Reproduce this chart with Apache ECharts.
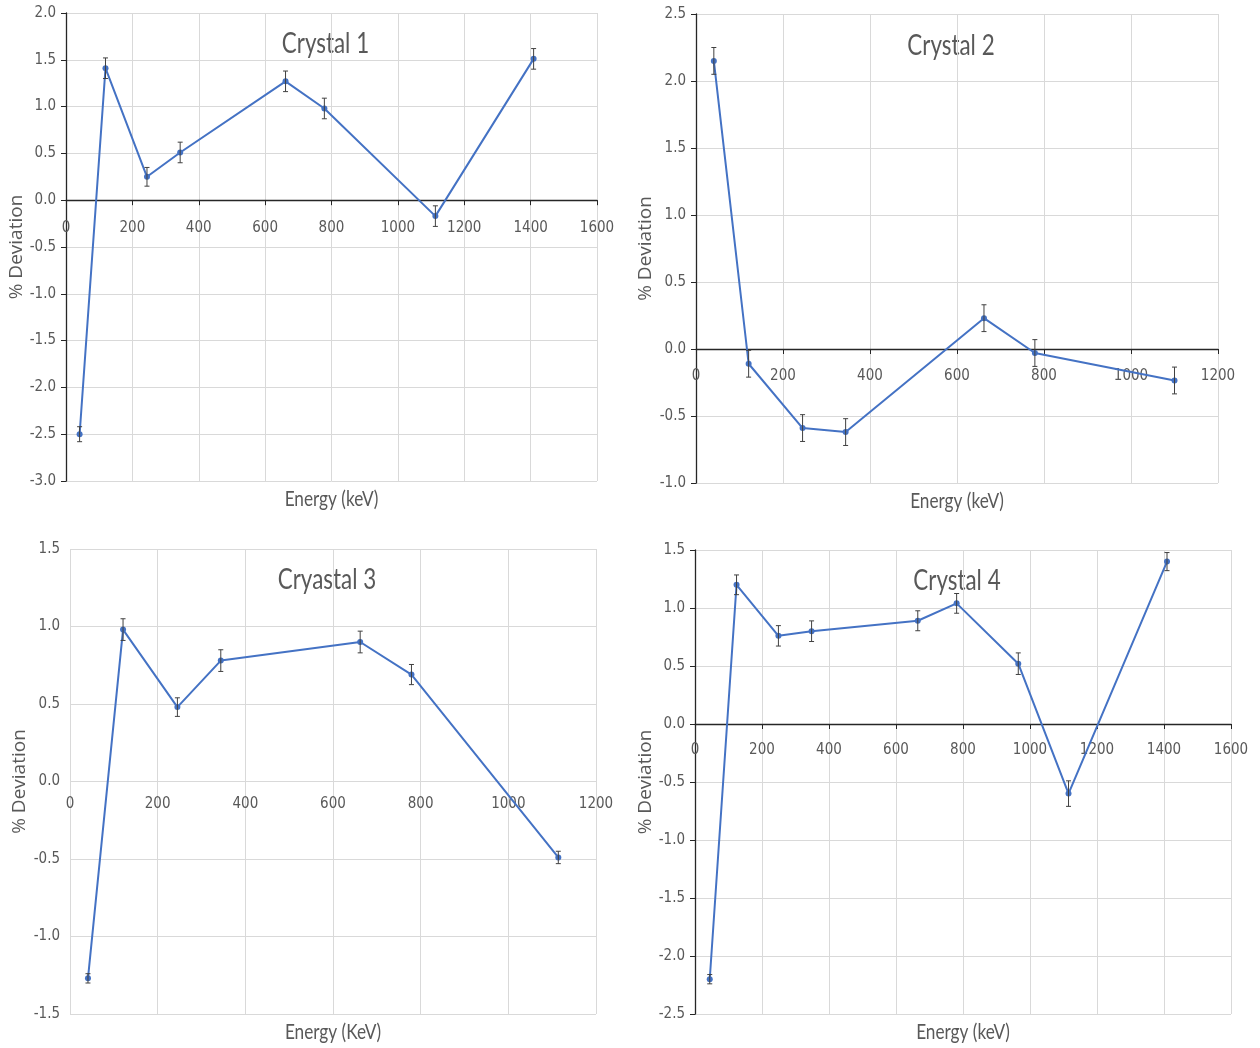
<!DOCTYPE html>
<html>
<head>
<meta charset="utf-8">
<script src="https://cdn.jsdelivr.net/npm/echarts@6/dist/echarts.min.js"></script>
<style>html,body{margin:0;padding:0;background:#fff}#c{width:1260px;height:1048px}</style>
</head>
<body>
<div id="c"></div>
<script>
// ---- data ----
const titles = ['Crystal 1', 'Crystal 2', 'Cryastal 3', 'Crystal 4'];
const xTitles = ['Energy (keV)', 'Energy (keV)', 'Energy (KeV)', 'Energy (keV)'];
const yTitle = '% Deviation';

const energy1 = [41, 119, 244, 344, 661.5, 778.5, 1113, 1409];
const dev1    = [-2.50, 1.41, 0.25, 0.51, 1.27, 0.98, -0.17, 1.51];
const err1    = [0.08, 0.11, 0.10, 0.11, 0.11, 0.11, 0.11, 0.11];

const energy2 = [41, 121, 245, 344, 662, 779, 1100];
const dev2    = [2.15, -0.11, -0.59, -0.62, 0.23, -0.03, -0.235];
const err2    = [0.10, 0.10, 0.10, 0.10, 0.10, 0.10, 0.10];

const energy3 = [41, 121, 245, 344, 662, 779, 1114];
const dev3    = [-1.27, 0.98, 0.48, 0.78, 0.90, 0.69, -0.49];
const err3    = [0.03, 0.07, 0.06, 0.07, 0.07, 0.065, 0.04];

const energy4 = [44, 124, 249, 348, 665, 781, 965, 1115, 1409];
const dev4    = [-2.20, 1.20, 0.76, 0.80, 0.89, 1.04, 0.52, -0.60, 1.40];
const err4    = [0.04, 0.085, 0.088, 0.089, 0.086, 0.085, 0.093, 0.11, 0.078];

const xMax = [1600, 1200, 1200, 1600];
const yMin = [-3.0, -1.0, -1.5, -2.5];
const yMax = [2.0, 2.5, 1.5, 1.5];

// ---- layout / style ----
const grids = [
  {left: 66,  top: 13,  width: 531, height: 468},
  {left: 696, top: 14,  width: 522, height: 469},
  {left: 70,  top: 549, width: 526, height: 465},
  {left: 695, top: 550, width: 536, height: 464}
];
const showAxisLine = [true, true, false, true];
const xLabelMargin = [20, 20, 15, 19];
const yNameGap = [39, 41, 41, 40];
const TICKFONT = "'DejaVu Sans Condensed', 'DejaVu Sans', sans-serif";
const TITLEFONT = "Lato, 'Open Sans', sans-serif";
const TXT = '#595959';
const LINE = '#4472C4';

const sets = [
  [energy1, dev1, err1],
  [energy2, dev2, err2],
  [energy3, dev3, err3],
  [energy4, dev4, err4]
];

const xAxes = [], yAxes = [], series = [], graphics = [];
grids.forEach((g, i) => {
  // x axis sits on the y = 0 line (Excel "axis crosses at 0")
  const zeroOffset = -g.height * (0 - yMin[i]) / (yMax[i] - yMin[i]);
  xAxes.push({
    type: 'value', gridIndex: i, min: 0, max: xMax[i], interval: 200,
    position: 'bottom', offset: zeroOffset,
    axisLine: {show: showAxisLine[i], onZero: false, lineStyle: {color: '#262626', width: 1.3}},
    axisTick: {show: showAxisLine[i], inside: false, length: 5, lineStyle: {color: '#262626'}},
    axisLabel: {color: TXT, fontFamily: TICKFONT, fontSize: 15, margin: xLabelMargin[i],
                showMinLabel: true, showMaxLabel: true, formatter: v => String(v)},
    splitLine: {show: true, lineStyle: {color: '#d9d9d9', width: 1}}
  });
  yAxes.push({
    type: 'value', gridIndex: i, min: yMin[i], max: yMax[i], interval: 0.5,
    axisLine: {show: showAxisLine[i], onZero: false, lineStyle: {color: '#262626', width: 1.3}},
    axisTick: {show: showAxisLine[i], inside: false, length: 5, lineStyle: {color: '#262626'}},
    axisLabel: {color: TXT, fontFamily: TICKFONT, fontSize: 15, margin: 10, formatter: v => v.toFixed(1)},
    splitLine: {show: true, lineStyle: {color: '#d9d9d9', width: 1}},
    name: yTitle, nameLocation: 'middle', nameGap: yNameGap[i],
    nameTextStyle: {color: TXT, fontFamily: "'Open Sans', 'Noto Sans', sans-serif", fontSize: 19}
  });
  const [xs, ys, es] = sets[i];
  series.push({
    type: 'line', xAxisIndex: i, yAxisIndex: i,
    data: xs.map((x, k) => [x, ys[k]]),
    symbol: 'circle', symbolSize: 6, showSymbol: true,
    lineStyle: {color: LINE, width: 2}, itemStyle: {color: LINE},
    animation: false, z: 3
  });
  series.push({
    type: 'custom', xAxisIndex: i, yAxisIndex: i,
    data: xs.map((x, k) => [x, ys[k], es[k]]),
    encode: {x: 0, y: 1},
    renderItem: function (params, api) {
      const x = api.value(0), y = api.value(1), e = api.value(2);
      const a = api.coord([x, y + e]), b = api.coord([x, y - e]);
      const w = 2.5, st = {stroke: '#404040', lineWidth: 1};
      return {type: 'group', children: [
        {type: 'line', shape: {x1: a[0], y1: a[1], x2: b[0], y2: b[1]}, style: st},
        {type: 'line', shape: {x1: a[0] - w, y1: a[1], x2: a[0] + w, y2: a[1]}, style: st},
        {type: 'line', shape: {x1: b[0] - w, y1: b[1], x2: b[0] + w, y2: b[1]}, style: st}
      ]};
    },
    animation: false, z: 4, silent: true
  });
  // chart title (condensed like the original Calibri Light)
  graphics.push({
    type: 'text', x: g.left + g.width / 2 - 6, y: g.top + 31 + (i === 1 ? 1 : 0),
    scaleX: 0.8,
    style: {text: titles[i], fill: TXT, font: '28px ' + TITLEFONT, textAlign: 'center', textVerticalAlign: 'middle'}
  });
  // x axis title
  graphics.push({
    type: 'text', x: g.left + g.width / 2, y: g.top + g.height + 18,
    scaleX: 0.82,
    style: {text: xTitles[i], fill: TXT, font: '21px ' + TITLEFONT, textAlign: 'center', textVerticalAlign: 'middle'}
  });
});

const chart = echarts.init(document.getElementById('c'));
chart.setOption({
  backgroundColor: '#ffffff',
  animation: false,
  grid: grids,
  xAxis: xAxes,
  yAxis: yAxes,
  series: series,
  graphic: graphics
});
</script>
</body>
</html>
